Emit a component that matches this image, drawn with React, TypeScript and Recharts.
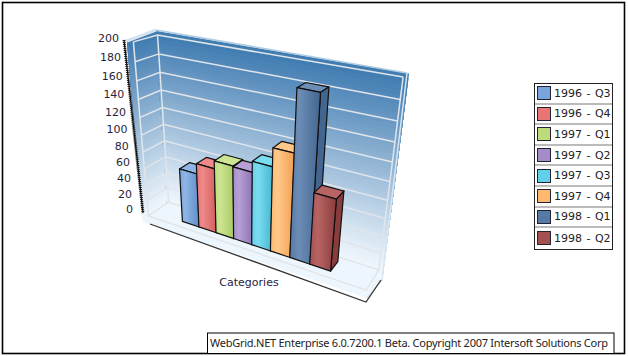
import React from 'react';
import { ComposedChart, Bar, XAxis, YAxis } from 'recharts';

const categories = ['1996 - Q3','1996 - Q4','1997 - Q1','1997 - Q2','1997 - Q3','1997 - Q4','1998 - Q1','1998 - Q2'];
const values = [66, 78, 87, 86, 98, 118, 182, 82];
const yTicks = [0,20,40,60,80,100,120,140,160,180,200];
const baseColors = ['#7aa5dc','#e87474','#bcdc7c','#a58cc8','#62cfe8','#ffb86e','#567aa6','#a55050'];
const lightColors = ['#8fb6e6','#f08a8a','#cde592','#b7a0d6','#7adcf0','#ffc88a','#6c8db6','#b86464'];
const darkColors = ['#5f8cc6','#d45f5f','#a7ca66','#8e74b4','#47b6d2','#f0a050','#436690','#8a3c3c'];

const data = categories.map((q, i) => ({ q, value: values[i] }));

const CW = 628, CH = 356;
const M = { left: 99, right: 128, top: 20, bottom: 36 };
const PL = 100;
const PW = CW - PL - M.right, PH = CH - M.top - M.bottom;
const D0 = 0.28, D1 = 0.78;

type V3 = [number, number, number];
const anchors: [V3, [number, number]][] = [
  [[0,0,1],[169,203]], [[1,0,1],[378,270]], [[0,1,1],[158,34]], [[1,1,1],[403,77]],
  [[0,0,0],[148,215]], [[1,0,0],[367,290]], [[0,1,0],[133,43]],
];

function fit() {
  const n = 11;
  const A = Array.from({ length: n }, () => new Array(n + 1).fill(0));
  const add = (r: number[], b: number) => {
    for (let i = 0; i < n; i++) { for (let j = 0; j < n; j++) A[i][j] += r[i] * r[j]; A[i][n] += r[i] * b; }
  };
  for (const [[u,v,d],[x,y]] of anchors) {
    add([u,v,d,1,0,0,0,0,-x*u,-x*v,-x*d], x);
    add([0,0,0,0,u,v,d,1,-y*u,-y*v,-y*d], y);
  }
  for (let i = 0; i < n; i++) {
    let p = i; for (let r = i + 1; r < n; r++) if (Math.abs(A[r][i]) > Math.abs(A[p][i])) p = r;
    [A[i], A[p]] = [A[p], A[i]];
    const piv = A[i][i] || 1e-9;
    for (let r = 0; r < n; r++) if (r !== i) {
      const f = A[r][i] / piv;
      for (let c = i; c <= n; c++) A[r][c] -= f * A[i][c];
    }
  }
  return A.map((row, i) => row[n] / (row[i] || 1e-9));
}
const Pm = fit();
const P = (u: number, v: number, d: number): [number, number] => {
  const w = Pm[8]*u + Pm[9]*v + Pm[10]*d + 1;
  return [(Pm[0]*u + Pm[1]*v + Pm[2]*d + Pm[3]) / w, (Pm[4]*u + Pm[5]*v + Pm[6]*d + Pm[7]) / w];
};
const pts = (a: [number, number][]) => a.map((p) => p[0].toFixed(1) + ',' + p[1].toFixed(1)).join(' ');

const mix = (v: number) => {
  const a = [240,247,253], b = [66,125,178];
  const t = Math.min(1, Math.pow(Math.max(v, 0), 1.15));
  return `rgb(${a.map((c, i) => Math.round(c + (b[i] - c) * t)).join(',')})`;
};

const strips = Array.from({ length: 51 }, (_, i) => 1.02 - i / 50);

function Frame() {
  const grid = yTicks.map((t) => t / 200);
  const line = '#e0e5ea';
  return (
    <svg width={CW} height={CH} style={{ position: 'absolute', left: 0, top: 0 }}>
      <rect x={2.5} y={2.5} width={622} height={351} fill="#fff" stroke="#000" strokeWidth={1.6} />
      {strips.map((v) => <polygon key={'l' + v} points={pts([P(0,v,-0.25),P(0,v,1),P(0,0,1),P(0,0,-0.25)])} fill={mix(v)} />)}
      {strips.map((v) => <polygon key={'b' + v} points={pts([P(-0.01,v,1),P(1.018,v,1),P(1.018,-0.02,1),P(-0.01,-0.02,1)])} fill={mix(v)} />)}
      <polygon points={pts([[169,203],[378,270],[382,280],[367,298],[143,222],[141,214]])} fill="#eef6fd" />
      <polyline points="127,41 156,30" stroke="#d6e4f0" strokeWidth={3} fill="none" />
      <polyline points="156,30 407,73" stroke="#aecde4" strokeWidth={1.5} fill="none" />
      <polyline points="407,73 382,280 367,298" stroke="#d5e5f2" strokeWidth={1.5} fill="none" />
      {grid.map((v) => (
        <polyline key={v} points={pts([P(0,v,0),P(0,v,1),P(1,v,1)])} fill="none" stroke={line} strokeWidth={1.5} />
      ))}
      <polyline points={pts([P(0,1,0),P(0,0,0),P(1,0,0),P(1,0,1)])} stroke={line} strokeWidth={1.5} fill="none" />
      <polyline points={pts([P(0,1,1),P(0,0,1)])} stroke={line} strokeWidth={1.5} fill="none" />
      <polyline points={pts([P(1,1,1),P(1,0,1)])} stroke={line} strokeWidth={1.5} fill="none" />
      <line x1={124} y1={40} x2={143} y2={213} stroke="#111" strokeWidth={1.2} />
      <line x1={124} y1={40} x2={143} y2={213} stroke="#111" strokeWidth={3} strokeDasharray="1 1" />
      <polyline points="150,224 366,302 381,280" stroke="#333" strokeWidth={1.3} fill="none" />
      <text x={249} y={286} textAnchor="middle" fontFamily="DejaVu Sans" fontSize={11} fill="#2a2240">Categories</text>
      <rect x={207.5} y={333} width={406.5} height={20.5} fill="#fff" stroke="#000" />
      <text x={210} y={347} fontFamily="Noto Sans" fontSize={11} textLength={398} fill="#222">WebGrid.NET Enterprise 6.0.7200.1 Beta. Copyright 2007 Intersoft Solutions Corp</text>
    </svg>
  );
}

function YTick(props: any) {
  const { y, payload } = props;
  const t = (y - M.top) / PH;
  const lx = 119 + 14 * (t + 0.4 * t * (1 - t));
  const ly = 38 + 171 * (t + 0.128 * t * (1 - t));
  return (
    <text x={lx} y={ly + 4} textAnchor="end" fontFamily="DejaVu Sans" fontSize={11} fill="#2a1f3a">{payload.value}</text>
  );
}

function Bar3D(props: any) {
  const { x, y, width, height, index } = props;
  const u0 = (x - PL) / PW, u1 = (x + width - PL) / PW;
  const v1 = 1 - (y - M.top) / PH, v0 = 1 - (y + height - M.top) / PH;
  const s = { stroke: '#111', strokeWidth: 1.2, strokeLinejoin: 'round' as const };
  return (
    <g>
      <polygon points={pts([P(u1,v1,D0),P(u1,v1,D1),P(u1,v0,D1),P(u1,v0,D0)])} fill={darkColors[index]} {...s} />
      <polygon points={pts([P(u0,v1,D0),P(u1,v1,D0),P(u1,v1,D1),P(u0,v1,D1)])} fill={lightColors[index]} {...s} />
      <polygon points={pts([P(u0,v1,D0),P(u1,v1,D0),P(u1,v0,D0),P(u0,v0,D0)])} fill={`url(#bar${index})`} {...s} />
    </g>
  );
}

function Legend3D() {
  return (
    <div style={{ position: 'absolute', left: 534, top: 83, width: 79, height: 167, boxSizing: 'border-box', border: '1px solid #222', background: '#fff', fontFamily: 'DejaVu Sans', fontSize: 11, wordSpacing: 1, color: '#222' }}>
      {categories.map((c, i) => (
        <div key={c} style={{ height: 20.6, boxSizing: 'border-box', borderBottom: i < 7 ? '2px solid #bbb' : 'none', display: 'flex', alignItems: 'center', whiteSpace: 'nowrap' }}>
          <span style={{ display: 'inline-block', flex: 'none', width: 12, height: 12, margin: '0 3px 0 2px', border: '1.5px solid #223', background: baseColors[i] }} />
          {c}
        </div>
      ))}
    </div>
  );
}

export default function App() {
  return (
    <div style={{ position: 'fixed', left: 0, top: 0, width: CW, height: CH }}>
      <Frame />
      <div style={{ position: 'absolute', left: 0, top: 0 }}>
        <ComposedChart width={CW} height={CH} data={data} margin={M} barCategoryGap={0}>
          <defs>
            {categories.map((c, i) => (
              <linearGradient key={c} id={`bar${i}`} x1="0" y1="0" x2="1" y2="0">
                <stop offset="0%" stopColor={baseColors[i]} />
                <stop offset="30%" stopColor={lightColors[i]} />
                <stop offset="100%" stopColor={darkColors[i]} />
              </linearGradient>
            ))}
          </defs>
          <XAxis dataKey="q" hide padding={{ left: 61, right: 63 }} />
          <YAxis domain={[0, 200]} ticks={yTicks} width={1} axisLine={false} tickLine={false} tick={(p: any) => <YTick {...p} />} interval={0} />
          <Bar dataKey="value" isAnimationActive={false} shape={(p: any) => <Bar3D {...p} />} />
        </ComposedChart>
      </div>
      <Legend3D />
    </div>
  );
}
